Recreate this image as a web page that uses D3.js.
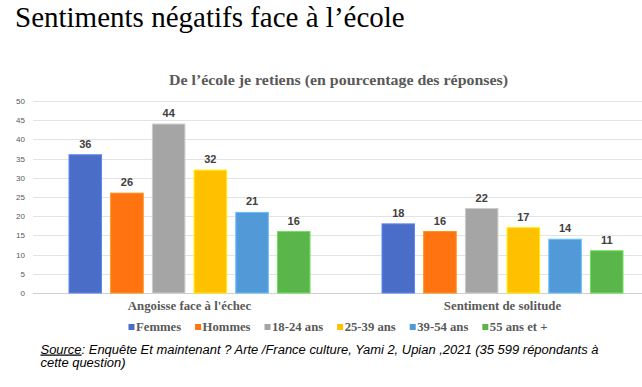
<!DOCTYPE html>
<html><head><meta charset="utf-8">
<script src="https://cdn.jsdelivr.net/npm/d3@7"></script>
<style>html,body{margin:0;padding:0;background:#fff;}svg{display:block;}</style>
</head><body>
<svg id="c" width="642" height="387"></svg>
<script>
const categories = ["Angoisse face à l'échec", "Sentiment de solitude"];
const seriesNames = ["Femmes", "Hommes", "18-24 ans", "25-39 ans", "39-54 ans", "55 ans et +"];
const seriesColors = ["#4a6dc8", "#ff7410", "#a5a5a5", "#ffc000", "#5299d8", "#5ab54a"];
const angoisse = [36, 26, 44, 32, 21, 16];
const solitude = [18, 16, 22, 17, 14, 11];
const yTicks = [0, 5, 10, 15, 20, 25, 30, 35, 40, 45, 50];
const values = [angoisse, solitude];

const svg = d3.select("#c");
const serif = "'Liberation Serif','Times New Roman',serif";
const sans = "'Liberation Sans',Arial,sans-serif";

const y = d3.scaleLinear().domain([0, 50]).range([293, 101]);
const x0 = d3.scaleBand().domain(categories).range([33, 659]).padding(0);
const x1 = d3.scaleBand().domain(seriesNames).range([0, 241]).paddingInner(0.22).paddingOuter(0);
const groupOffset = (x0.bandwidth() - 241) / 2;

// title
svg.append("text").attr("x", 15).attr("y", 27).attr("font-family", serif)
  .attr("font-size", 29).attr("fill", "#000").text("Sentiments négatifs face à l’école");
svg.append("text").attr("x", 169).attr("y", 84.5).attr("font-family", serif)
  .attr("font-weight", "bold").attr("font-size", 14.5).attr("fill", "#595959")
  .attr("textLength", 339).attr("lengthAdjust", "spacingAndGlyphs")
  .text("De l’école je retiens (en pourcentage des réponses)");

// gridlines
svg.append("g").selectAll("line").data(yTicks).join("line")
  .attr("x1", 33).attr("x2", 642).attr("y1", d => Math.round(y(d)) + 0.5).attr("y2", d => Math.round(y(d)) + 0.5)
  .attr("stroke", d => d === 0 ? "#d0d0d0" : "#e3e3e3").attr("stroke-width", 1);

// y axis labels
const yAxis = d3.axisLeft(y).tickValues(yTicks).tickSize(0).tickPadding(0);
const ya = svg.append("g").attr("transform", "translate(25,0)").call(yAxis);
ya.select(".domain").remove();
ya.selectAll("text").attr("font-family", sans).attr("font-size", 8).attr("fill", "#595959");

// bars
const groups = svg.append("g").selectAll("g").data(categories).join("g")
  .attr("transform", d => `translate(${x0(d) + groupOffset},0)`);
groups.each(function(cat, ci) {
  const g = d3.select(this);
  const data = seriesNames.map((s, i) => ({s, v: values[ci][i], c: seriesColors[i]}));
  g.selectAll("rect").data(data).join("rect")
    .attr("x", d => x1(d.s)).attr("width", x1.bandwidth())
    .attr("y", d => y(d.v)).attr("height", d => y(0) - y(d.v))
    .attr("fill", d => d.c).attr("stroke", d => d3.color(d.c).brighter(0.6)).attr("stroke-width", 1);
  g.selectAll("text.v").data(data).join("text").attr("class", "v")
    .attr("x", d => x1(d.s) + x1.bandwidth() / 2).attr("y", d => y(d.v) - 7)
    .attr("text-anchor", "middle").attr("font-family", sans).attr("font-weight", "bold")
    .attr("font-size", 11).attr("fill", "#404040").text(d => d.v);
});

// category labels
svg.append("g").selectAll("text").data(categories).join("text")
  .attr("x", d => x0(d) + x0.bandwidth() / 2).attr("y", 309.5)
  .attr("text-anchor", "middle").attr("font-family", serif).attr("font-weight", "bold")
  .attr("font-size", 12.8).attr("fill", "#595959").text(d => d);

// legend
const leg = svg.append("g");
let lx = 128.5;
seriesNames.forEach((s, i) => {
  leg.append("rect").attr("x", lx).attr("y", 324).attr("width", 6).attr("height", 6).attr("fill", seriesColors[i]);
  const t = leg.append("text").attr("x", lx + 7.5).attr("y", 331).attr("font-family", serif)
    .attr("font-weight", "bold").attr("font-size", 12.7).attr("fill", "#595959").text(s);
  lx += 7.5 + t.node().getComputedTextLength() + 14;
});

// source
const src = svg.append("text").attr("x", 40.5).attr("y", 353.5).attr("font-family", sans)
  .attr("font-style", "italic").attr("font-size", 12.5).attr("fill", "#000");
src.append("tspan").attr("text-decoration", "underline").text("Source");
src.append("tspan").text(": Enquête Et maintenant ? Arte /France culture, Yami 2, Upian ,2021 (35 599 répondants à");
const nat1 = src.node().getComputedTextLength();
const ratio = 558 / nat1;
src.attr("textLength", 558).attr("lengthAdjust", "spacingAndGlyphs");
const src2 = svg.append("text").attr("x", 40.5).attr("y", 367).attr("font-family", sans)
  .attr("font-style", "italic").attr("font-size", 12.5).attr("fill", "#000").text("cette question)");
src2.attr("textLength", src2.node().getComputedTextLength() * ratio).attr("lengthAdjust", "spacingAndGlyphs");
</script>
</body></html>
